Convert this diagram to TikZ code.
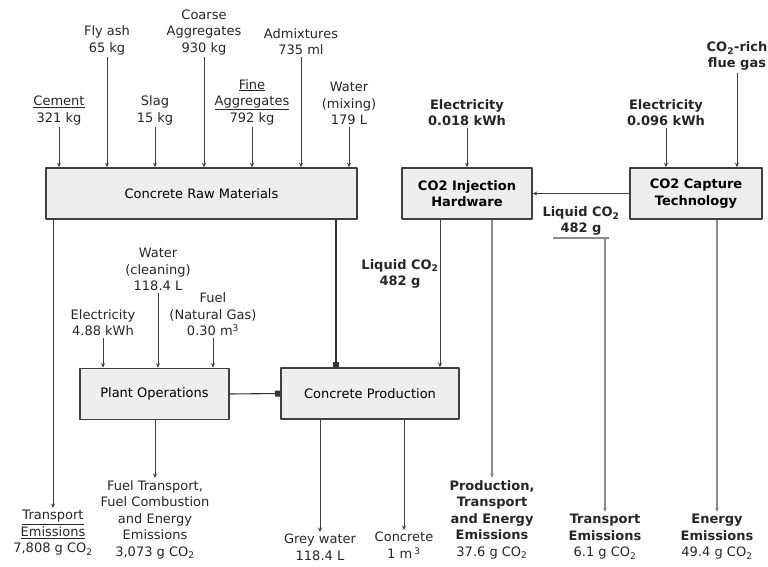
\documentclass[tikz,border=0pt]{standalone}
\usepackage{fontspec}
\setmainfont{DejaVu Sans}
\usepackage{tikz}
\usetikzlibrary{positioning,arrows.meta,calc}

\begin{document}
\begin{tikzpicture}[x=1pt,y=-1pt,line join=round,
  font=\fontsize{13}{16.5}\selectfont,
  box/.style={draw=black!75,line width=1.6pt,fill=gray!13,minimum height=51pt,align=center,inner sep=2pt},
  lbl/.style={align=center,inner sep=2pt,text=black!85},
  blbl/.style={lbl,font=\fontsize{13}{16.5}\selectfont\bfseries},
  arr/.style={draw=black!75,line width=0.9pt,-{Stealth[length=4.5pt,width=4pt]}},
  garr/.style={draw=black!45,line width=1.1pt,-{Stealth[length=4.5pt,width=4pt]}},
  sqline/.style={draw=black!80,line width=1.1pt,-{Square[length=5pt,width=6pt]}}]
  \useasboundingbox (0,0) rectangle (768,567);
  % process boxes
  \node[box,minimum width=311pt] (raw) at (201.5,193.5) {Concrete Raw Materials};
  \node[box,minimum width=149pt] (plant) at (154.5,394) {Plant Operations};
  \node[box,minimum width=178pt] (prod) at (370,393.5) {Concrete Production};
  \node[box,minimum width=130pt,font=\fontsize{13}{16.5}\selectfont\bfseries] (inj) at (467,193.5) {CO2 Injection\\Hardware};
  \node[box,minimum width=132pt,font=\fontsize{13}{16.5}\selectfont\bfseries] (cap) at (696,193.5) {CO2 Capture\\Technology};
  % raw material inputs
  \node[lbl,anchor=south] (cement) at (59,127) {\underline{Cement}\\321 kg};
  \node[lbl,anchor=south] (flyash) at (107,57) {Fly ash\\65 kg};
  \node[lbl,anchor=south] (slag) at (155,127) {Slag\\15 kg};
  \node[lbl,anchor=south] (coarse) at (204,57) {Coarse\\Aggregates\\930 kg};
  \node[lbl,anchor=south] (fine) at (252,127) {\underline{Fine}\\\underline{Aggregates}\\792 kg};
  \node[lbl,anchor=south] (admix) at (301,57) {Admixtures\\735 ml};
  \node[lbl,anchor=south] (wmix) at (349,127) {Water\\(mixing)\\179 L};
  \foreach \n in {cement,flyash,slag,coarse,fine,admix,wmix}
    \draw[arr] (\n.south) -- (\n.south |- raw.north);
  % plant operation inputs
  \node[lbl,anchor=south] (elplant) at (103,338) {Electricity\\4.88 kWh};
  \node[lbl,anchor=south] (wclean) at (158,293) {Water\\(cleaning)\\118.4 L};
  \node[lbl,anchor=south] (fuel) at (213,338) {Fuel\\(Natural Gas)\\0.30 m\textsuperscript{3}};
  \foreach \n in {elplant,wclean,fuel}
    \draw[arr] (\n.south) -- (\n.south |- plant.north);
  % CO2 side inputs
  \node[blbl,anchor=south] (elinj) at (467,128) {Electricity\\0.018 kWh};
  \node[blbl,anchor=south] (elcap) at (666,128) {Electricity\\0.096 kWh};
  \node[blbl,anchor=south] (flue) at (737,73) {CO\textsubscript{2}-rich\\flue gas};
  \foreach \n in {elinj,elcap,flue}
    \draw[arr] (\n.south) -- (\n.south |- inj.north);
  % liquid CO2 flows
  \draw[arr] (cap.west) -- (inj.east);
  \node[blbl,anchor=south] (lqcap) at (581,238) {Liquid CO\textsubscript{2}\\482 g};
  \draw[draw=black!45,line width=1.1pt] ([xshift=-28]lqcap.south) -- ([xshift=28]lqcap.south);
  \node[blbl] (lqinj) at (400,274) {Liquid CO\textsubscript{2}\\482 g};
  \draw[arr] ([xshift=-27]inj.south) -- ([xshift=-27]inj.south |- prod.north);
  % feeds into production
  \draw[sqline] ([xshift=-34]prod.north |- raw.south) -- ([xshift=-34]prod.north);
  \draw[sqline] (plant.east) -- (prod.west);
  % outputs
  \node[lbl,anchor=north] (trem) at (53,508) {\underline{Transport}\\\underline{Emissions}\\7,808 g CO\textsubscript{2}};
  \node[lbl,anchor=north] (fuelem) at (155,478) {Fuel Transport,\\Fuel Combustion\\and Energy\\Emissions\\3,073 g CO\textsubscript{2}};
  \node[lbl,anchor=north] (grey) at (320,532) {Grey water\\118.4 L};
  \node[lbl,anchor=north] (concrete) at (404,530) {Concrete\\1 m\,\textsuperscript{3}};
  \node[blbl,anchor=north] (injem) at (492,478) {Production,\\Transport\\and Energy\\Emissions\\\mdseries 37.6 g CO\textsubscript{2}};
  \node[blbl,anchor=north] (lqtr) at (605,512) {Transport\\Emissions\\\mdseries 6.1 g CO\textsubscript{2}};
  \node[blbl,anchor=north] (capem) at (717,512) {Energy\\Emissions\\\mdseries 49.4 g CO\textsubscript{2}};
  \draw[arr] (raw.south -| trem.north) -- (trem.north);
  \draw[arr] (plant.south -| fuelem.north) -- (fuelem.north);
  \draw[arr] (prod.south -| grey.north) -- (grey.north);
  \draw[arr] (prod.south -| concrete.north) -- (concrete.north);
  \draw[garr] (inj.south -| injem.north) -- (injem.north);
  \draw[garr] ([xshift=24]lqcap.south) -- ([xshift=24]lqcap.south |- lqtr.north);
  \draw[garr] (cap.south -| capem.north) -- (capem.north);
\end{tikzpicture}
\end{document}
